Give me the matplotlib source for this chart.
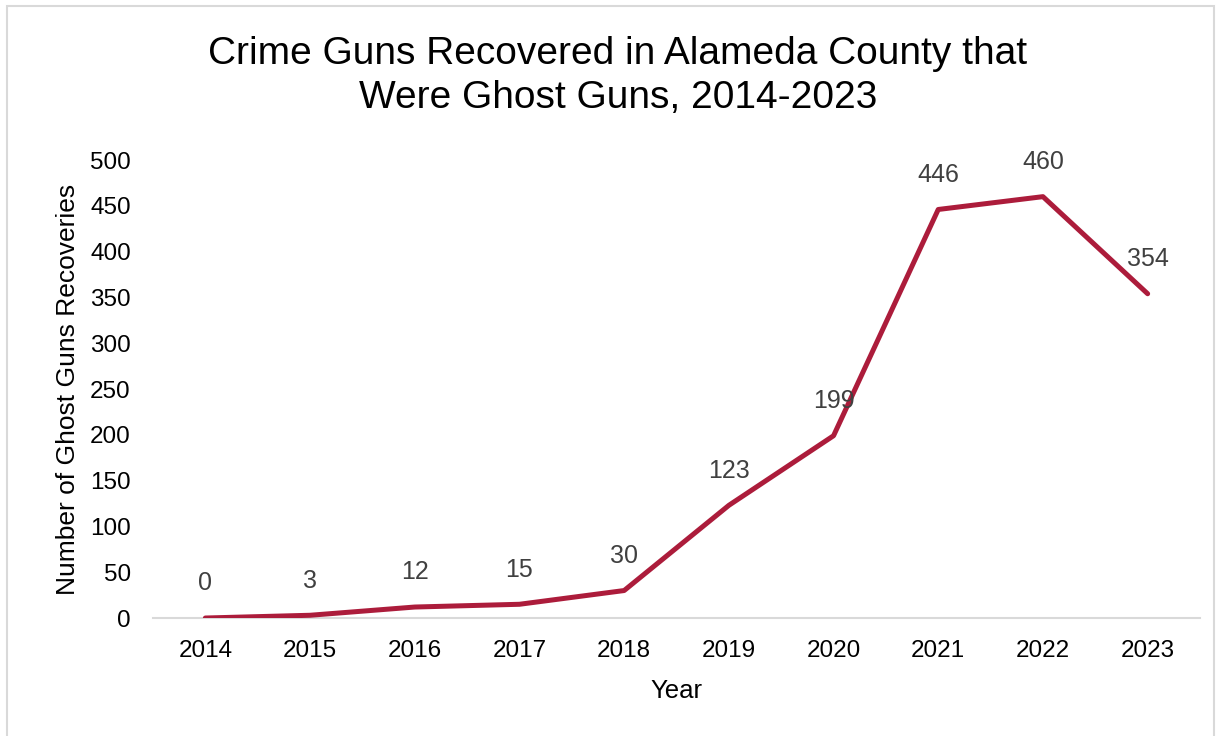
import matplotlib.pyplot as plt
from matplotlib.patches import Rectangle

plt.rcParams['font.family'] = ['Liberation Sans', 'DejaVu Sans']

# data
years = ["2014", "2015", "2016", "2017", "2018", "2019", "2020", "2021", "2022", "2023"]
ghost_guns = [0, 3, 12, 15, 30, 123, 199, 446, 460, 354]
y_ticks = [0, 50, 100, 150, 200, 250, 300, 350, 400, 450, 500]

fig = plt.figure(figsize=(12.21, 7.36), dpi=100)
ax = fig.add_axes([0.1253, 0.1603, 0.8575, 0.6223])

x = list(range(len(years)))
ax.plot(x, ghost_guns, color="#AC1C3B", linewidth=3.6, solid_capstyle="round",
        solid_joinstyle="round", zorder=3)

for xi, v in zip(x, ghost_guns):
    ax.annotate(str(v), (xi, v), xytext=(0, 25), textcoords="offset points",
                ha="center", va="center", fontsize=18, color="#404040")

ax.set_xlim(-0.5, len(years) - 0.5)
ax.set_ylim(0, 500)
ax.set_xticks(x)
ax.set_xticklabels(years, fontsize=17.5)
ax.set_yticks(y_ticks)
ax.set_yticklabels([str(t) for t in y_ticks], fontsize=17.5)
ax.tick_params(axis="x", length=0, pad=16)
ax.tick_params(axis="y", length=0, pad=16)

for s in ["top", "right", "left"]:
    ax.spines[s].set_visible(False)
ax.spines["bottom"].set_color("#D9D9D9")
ax.spines["bottom"].set_linewidth(1.5)

ax.set_xlabel("Year", fontsize=18.5, labelpad=12)
ax.set_ylabel("Number of Ghost Guns Recoveries", fontsize=19, labelpad=7)

fig.text(0.506, 0.897, "Crime Guns Recovered in Alameda County that\nWere Ghost Guns, 2014-2023",
         ha="center", va="center", fontsize=28, linespacing=1.3)

# light frame around the chart
fig.patches.append(Rectangle((7 / 1221, -0.01), 1207 / 1221, 1 - 6 / 736 + 0.01,
                             transform=fig.transFigure, fill=False,
                             edgecolor="#D9D9D9", linewidth=1.5))

fig.savefig("out.png", dpi=100)
